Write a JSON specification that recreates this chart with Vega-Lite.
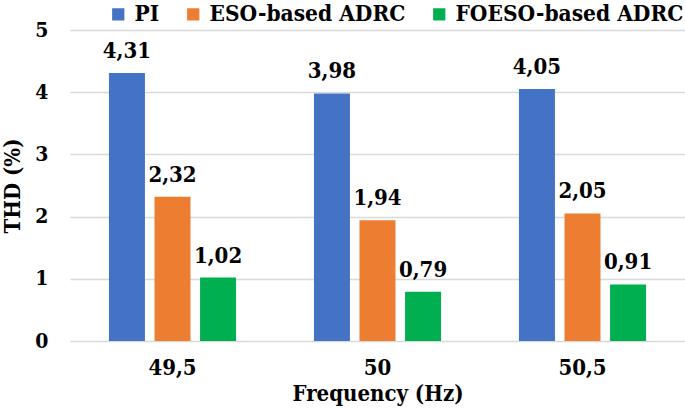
{
  "$schema": "https://vega.github.io/schema/vega-lite/v6.json",
  "width": 615,
  "height": 311,
  "autosize": {"type": "none"},
  "padding": {"left": 70, "top": 30, "right": 0, "bottom": 68},
  "background": "white",
  "config": {
    "locale": {"number": {"decimal": ",", "thousands": ".", "grouping": [3], "currency": ["", " €"]}},
    "font": "DejaVu Serif Condensed",
    "view": {"stroke": null}
  },
  "data": {
    "values": [
      {"freq": "49,5", "method": "PI", "thd": 4.31},
      {"freq": "49,5", "method": "ESO-based ADRC", "thd": 2.32},
      {"freq": "49,5", "method": "FOESO-based ADRC", "thd": 1.02},
      {"freq": "50", "method": "PI", "thd": 3.98},
      {"freq": "50", "method": "ESO-based ADRC", "thd": 1.94},
      {"freq": "50", "method": "FOESO-based ADRC", "thd": 0.79},
      {"freq": "50,5", "method": "PI", "thd": 4.05},
      {"freq": "50,5", "method": "ESO-based ADRC", "thd": 2.05},
      {"freq": "50,5", "method": "FOESO-based ADRC", "thd": 0.91}
    ]
  },
  "encoding": {
    "x": {
      "field": "freq", "type": "nominal", "sort": ["49,5", "50", "50,5"],
      "scale": {"paddingInner": 0.38, "paddingOuter": 0.19},
      "axis": {
        "title": "Frequency (Hz)", "labelAngle": 0, "domain": false, "ticks": false,
        "labelFont": "DejaVu Serif Condensed", "labelFontWeight": "bold", "labelFontSize": 22, "labelColor": "black",
        "labelPadding": 16, "titleFont": "DejaVu Serif Condensed", "titleFontWeight": "bold", "titleFontSize": 22,
        "titleColor": "black", "titlePadding": 5
      }
    },
    "xOffset": {
      "field": "method", "type": "nominal", "sort": ["PI", "ESO-based ADRC", "FOESO-based ADRC"],
      "scale": {"paddingInner": 0.21, "paddingOuter": 0}
    },
    "y": {
      "field": "thd", "type": "quantitative",
      "scale": {"domain": [0, 5], "nice": false},
      "axis": {
        "title": "THD (%)", "values": [0, 1, 2, 3, 4, 5], "format": "d", "domain": false, "ticks": false,
        "grid": true, "gridColor": "#D9D9D9", "gridWidth": 1.5,
        "labelFont": "DejaVu Serif Condensed", "labelFontWeight": "bold", "labelFontSize": 21, "labelColor": "black",
        "labelPadding": 22, "titleFont": "DejaVu Serif Condensed", "titleFontWeight": "bold", "titleFontSize": 22,
        "titleColor": "black", "titlePadding": 10
      }
    }
  },
  "layer": [
    {
      "mark": {"type": "bar"},
      "encoding": {
        "color": {
          "field": "method", "type": "nominal", "sort": ["PI", "ESO-based ADRC", "FOESO-based ADRC"],
          "scale": {"domain": ["PI", "ESO-based ADRC", "FOESO-based ADRC"], "range": ["#4472C4", "#ED7D31", "#00B050"]},
          "legend": {
            "title": null, "orient": "none", "legendX": 37, "legendY": -27, "direction": "horizontal",
            "symbolType": "square", "symbolSize": 150, "symbolStrokeWidth": 0, "symbolOpacity": 1,
            "labelFont": "DejaVu Serif Condensed", "labelFontWeight": "bold", "labelFontSize": 22.5, "labelColor": "black",
            "labelLimit": 400, "columnPadding": 22, "labelOffset": 5
          }
        }
      }
    },
    {
      "mark": {"type": "text", "baseline": "alphabetic", "dy": -15, "font": "DejaVu Serif Condensed", "fontWeight": "bold", "fontSize": 22, "color": "black"},
      "encoding": {
        "text": {"field": "thd", "type": "quantitative", "format": ".2f"}
      }
    }
  ]
}
